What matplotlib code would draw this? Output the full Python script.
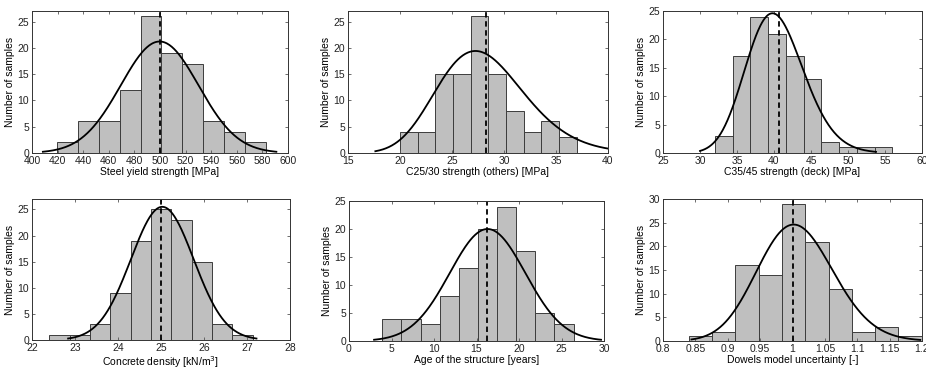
import numpy as np
import matplotlib.pyplot as plt

plt.rcParams['font.family'] = ['Liberation Sans', 'DejaVu Sans']
plt.rcParams['font.size'] = 7.5

# histogram data (bin start, bin width, counts)
steel_start, steel_width = 419.6, 16.3
steel_counts = [2, 6, 6, 12, 26, 19, 17, 6, 4, 2]

c2530_start, c2530_width = 20.0, 1.7
c2530_counts = [4, 4, 15, 15, 26, 15, 8, 4, 6, 3]

c3545_start, c3545_width = 32.0, 2.4
c3545_counts = [3, 17, 24, 21, 17, 13, 2, 1, 1, 1]

dens_start, dens_width = 22.40, 0.473
dens_counts = [1, 1, 3, 9, 19, 25, 23, 15, 3, 1]

age_start, age_width = 3.92, 2.25
age_counts = [4, 4, 3, 8, 13, 20, 24, 16, 5, 3]

dow_start, dow_width = 0.8396, 0.036
dow_counts = [1, 2, 16, 14, 29, 21, 11, 2, 3, 1]

# fitted distributions: (kind, location, scale, peak height)
steel_fit = ('normal', 499.7, 30.4, 21.2)
c2530_fit = ('lognormal', np.log(27.9), 0.153, 19.4)
c3545_fit = ('lognormal', np.log(40.17), 0.0973, 24.6)
dens_fit = ('normal', 25.03, 0.73, 25.5)
age_fit = ('normal', 16.3, 4.45, 20.0)
dow_fit = ('lognormal', 0.0052, 0.0583, 24.6)

# dashed reference line
steel_mean = 500
c2530_mean = 28.3
c3545_mean = 40.7
dens_mean = 25.0
age_mean = 16.2
dow_mean = 1.0

panels = [
    (steel_start, steel_width, steel_counts, steel_fit, steel_mean,
     'Steel yield strength [MPa]', (400, 600), np.arange(400, 601, 20), (0, 27), [0, 5, 10, 15, 20, 25]),
    (c2530_start, c2530_width, c2530_counts, c2530_fit, c2530_mean,
     'C25/30 strength (others) [MPa]', (15, 40), np.arange(15, 41, 5), (0, 27), [0, 5, 10, 15, 20, 25]),
    (c3545_start, c3545_width, c3545_counts, c3545_fit, c3545_mean,
     'C35/45 strength (deck) [MPa]', (25, 60), np.arange(25, 61, 5), (0, 25), [0, 5, 10, 15, 20, 25]),
    (dens_start, dens_width, dens_counts, dens_fit, dens_mean,
     'Concrete density [kN/m$^3$]', (22, 28), np.arange(22, 29, 1), (0, 27), [0, 5, 10, 15, 20, 25]),
    (age_start, age_width, age_counts, age_fit, age_mean,
     'Age of the structure [years]', (0, 30), np.arange(0, 31, 5), (0, 25), [0, 5, 10, 15, 20, 25]),
    (dow_start, dow_width, dow_counts, dow_fit, dow_mean,
     'Dowels model uncertainty [-]', (0.8, 1.2), [0.8, 0.85, 0.9, 0.95, 1, 1.05, 1.1, 1.15, 1.2],
     (0, 30), [0, 5, 10, 15, 20, 25, 30]),
]

# axes boxes in pixels: left, top, right, bottom
boxes = [
    (32, 11, 288, 153), (348, 11, 608, 153), (663, 11, 922, 153),
    (32, 199, 290, 340), (349, 201, 604, 341), (663, 199, 922, 341),
]

W, H = 926, 372
fig = plt.figure(figsize=(W / 100, H / 100), dpi=100)


def curve(fit):
    kind, a, b, peak = fit
    if kind == 'normal':
        x = np.linspace(a - 3 * b, a + 3 * b, 300)
        y = np.exp(-(x - a) ** 2 / (2 * b ** 2))
    else:
        x = np.exp(np.linspace(a - 3 * b, a + 3 * b, 300))
        y = np.exp(-(np.log(x) - a) ** 2 / (2 * b ** 2)) / x
    return x, y / y.max() * peak


for (start, width, counts, fit, mean, xlabel, xlim, xticks, ylim, yticks), (l, t, r, b) in zip(panels, boxes):
    ax = fig.add_axes([l / W, 1 - b / H, (r - l) / W, (b - t) / H])
    edges = start + width * np.arange(len(counts) + 1)
    ax.bar(edges[:-1], counts, width=width, align='edge', color='#bfbfbf',
           edgecolor='#3c3c3c', linewidth=0.7)
    cx, cy = curve(fit)
    ax.plot(cx, cy, color='black', linewidth=1.3)
    ax.axvline(mean, color='black', linestyle='--', linewidth=1.3, dashes=(3, 2))
    ax.set_xlim(xlim)
    ax.set_ylim(ylim)
    ax.set_xticks(xticks)
    ax.set_xticklabels([f'{v:g}' for v in xticks])
    ax.set_yticks(yticks)
    ax.set_xlabel(xlabel, labelpad=1)
    ax.set_ylabel('Number of samples', labelpad=2)
    ax.tick_params(direction='in', top=True, right=True, length=2.5, width=0.6,
                   color='#555555', pad=2, labelcolor='#222222')
    for s in ax.spines.values():
        s.set_linewidth(0.7)
        s.set_color('#333333')

plt.savefig('out.png', dpi=100)
